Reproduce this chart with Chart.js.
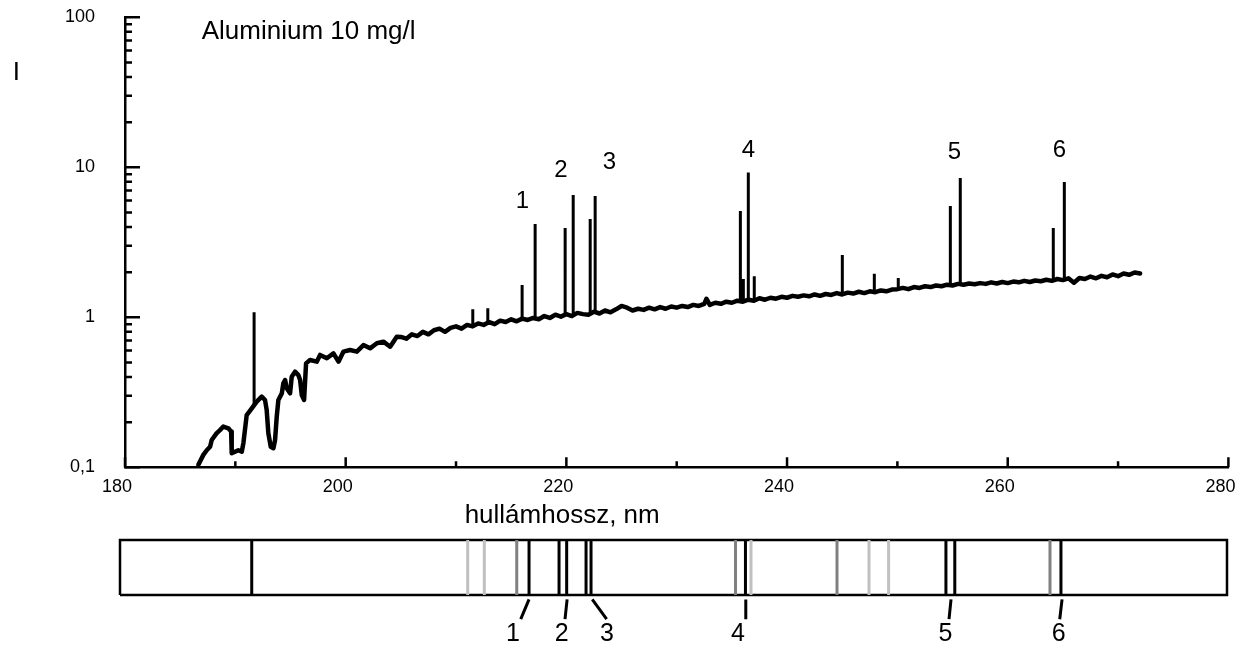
<!DOCTYPE html>
<html>
<head>
<meta charset="utf-8">
<title>Aluminium 10 mg/l</title>
<script src="https://cdn.jsdelivr.net/npm/chart.js@4.4.1/dist/chart.umd.min.js"></script>
<style>
  html, body { margin: 0; padding: 0; background: #fff; }
  #wrap { position: relative; width: 1239px; height: 645px; }
  #spectrum { position: absolute; left: 0; top: 0; }
  #strip { position: absolute; left: 0; top: 530px; }
</style>
</head>
<body>
<div id="wrap">
  <canvas id="spectrum" width="1239" height="530"></canvas>
  <canvas id="strip" width="1239" height="115"></canvas>
</div>
<script>
// Axis ticks
const xTickValues = [180, 190, 200, 210, 220, 230, 240, 250, 260, 270, 280];
const xLabelValues = [180, 200, 220, 240, 260, 280];
const yTickValues = [0.1, 0.2, 0.3, 0.4, 0.5, 0.6, 0.7, 0.8, 0.9,
                     1, 2, 3, 4, 5, 6, 7, 8, 9,
                     10, 20, 30, 40, 50, 60, 70, 80, 90, 100];
const yLabelValues = [0.1, 1, 10, 100];
const yLabelText = ["0,1", "1", "10", "100"];

// Background spectrum (wavelength in nm, intensity)
const specNm = [
  186.65, 187.10, 187.41, 187.71, 187.86, 188.31, 188.61, 188.91, 189.37, 189.62,
  189.67, 189.97, 190.27, 190.58, 190.73, 191.03, 191.49, 191.94, 192.39, 192.69,
  192.84, 192.99, 193.21, 193.45, 193.60, 193.75, 193.90, 194.21, 194.35, 194.51,
  194.66, 194.96, 195.11, 195.41, 195.71, 195.87, 196.02, 196.23, 196.41, 196.77,
  197.38, 197.68, 198.29, 198.89, 199.35, 199.79, 200.40, 201.01, 201.61, 202.21,
  202.82, 203.42, 204.03, 204.63,
  205.0, 205.5, 206.0, 206.5, 207.0, 207.5, 208.0, 208.5, 209.0, 209.5,
  210.0, 210.5, 211.0, 211.5, 212.0, 212.5, 213.0, 213.5, 214.0, 214.5,
  215.0, 215.5, 216.0, 216.5, 217.0, 217.5, 218.0, 218.5, 219.0, 219.5,
  220.0, 220.5, 221.0, 221.5, 222.0, 222.5, 223.0, 223.5, 224.0, 224.5,
  225.0, 225.5, 226.0, 226.5, 227.0, 227.5, 228.0, 228.5, 229.0, 229.5,
  230.0, 230.5, 231.0, 231.5, 232.0, 232.5, 232.7, 233.0, 233.5, 234.0,
  234.5, 235.0, 235.5, 236.0, 236.5, 237.0, 237.5, 238.0, 238.5, 239.0,
  239.5, 240.0, 240.5, 241.0, 241.5, 242.0, 242.5, 243.0, 243.5, 244.0,
  244.5, 245.0, 245.5, 246.0, 246.5, 247.0, 247.5, 248.0, 248.5, 249.0,
  249.5, 250.0, 250.5, 251.0, 251.5, 252.0, 252.5, 253.0, 253.5, 254.0,
  254.5, 255.0, 255.5, 256.0, 256.5, 257.0, 257.5, 258.0, 258.5, 259.0,
  259.5, 260.0, 260.5, 261.0, 261.5, 262.0, 262.5, 263.0, 263.5, 264.0,
  264.5, 265.0, 265.5, 266.0, 266.5, 267.0, 267.5, 268.0, 268.5, 269.0,
  269.5, 270.0, 270.5, 271.0, 271.5, 272.0
];
const specI = [
  0.104, 0.121, 0.130, 0.137, 0.152, 0.169, 0.177, 0.187, 0.182, 0.173,
  0.124, 0.127, 0.130, 0.127, 0.145, 0.223, 0.247, 0.274, 0.296, 0.281,
  0.241, 0.169, 0.137, 0.134, 0.152, 0.217, 0.281, 0.311, 0.363, 0.382,
  0.336, 0.311, 0.402, 0.434, 0.412, 0.382, 0.303, 0.281, 0.493, 0.519,
  0.506, 0.561, 0.533, 0.575, 0.506, 0.590, 0.605, 0.590, 0.653, 0.621,
  0.671, 0.688, 0.637, 0.743,
  0.74, 0.72, 0.77, 0.75, 0.80, 0.77, 0.82, 0.84, 0.80, 0.85,
  0.87, 0.84, 0.89, 0.87, 0.91, 0.89, 0.93, 0.90, 0.95, 0.93,
  0.97, 0.94, 0.98, 0.96, 0.99, 0.97, 1.02, 0.99, 1.04, 1.01,
  1.05, 1.02, 1.07, 1.05, 1.04, 1.09, 1.06, 1.11, 1.08, 1.13,
  1.19, 1.16, 1.11, 1.14, 1.12, 1.16, 1.13, 1.17, 1.14, 1.18,
  1.16, 1.19, 1.17, 1.21, 1.19, 1.23, 1.33, 1.21, 1.25, 1.23,
  1.27, 1.25, 1.29, 1.27, 1.31, 1.29, 1.34, 1.31, 1.35, 1.33,
  1.37, 1.35, 1.39, 1.37, 1.40, 1.38, 1.42, 1.39, 1.43, 1.41,
  1.45, 1.42, 1.46, 1.44, 1.48, 1.45, 1.49, 1.47, 1.51, 1.49,
  1.53, 1.54, 1.57, 1.54, 1.59, 1.57, 1.61, 1.59, 1.63, 1.61,
  1.65, 1.63, 1.67, 1.65, 1.68, 1.66, 1.69, 1.67, 1.71, 1.68,
  1.72, 1.69, 1.73, 1.71, 1.75, 1.72, 1.76, 1.74, 1.78, 1.75,
  1.80, 1.77, 1.82, 1.70, 1.83, 1.80, 1.87, 1.82, 1.89, 1.85,
  1.93, 1.88, 1.96, 1.92, 1.99, 1.96
];

// Emission lines on the spectrum
const spikeNm   = [191.70, 211.52, 212.88, 215.99, 217.17, 219.89, 220.62, 222.16, 222.61, 235.77,
                   236.04, 236.49, 237.03, 245.01, 247.91, 250.08, 254.80, 255.70, 264.13, 265.13];
const spikeBase = [0.26, 0.87, 0.90, 0.97, 0.98, 1.03, 1.04, 1.06, 1.08, 1.28,
                   1.29, 1.30, 1.31, 1.43, 1.47, 1.54, 1.64, 1.66, 1.77, 1.79];
const spikeTop  = [1.08, 1.13, 1.15, 1.64, 4.19, 3.94, 6.53, 4.52, 6.44, 5.11,
                   1.80, 9.22, 1.88, 2.60, 1.95, 1.83, 5.52, 8.49, 3.94, 7.98];

// Peak numbers above the spectrum
const peakText = ["1", "2", "3", "4", "5", "6"];
const peakLabelNm = [216.02, 219.50, 223.91, 236.49, 255.16, 264.68];
const peakLabelI  = [5.9, 9.5, 10.8, 13.0, 12.5, 12.9];

// Line strip below: wavelength and shade (0 black, 1 grey, 2 light grey)
const stripNm = [191.90, 211.41, 212.91, 215.84, 216.95, 219.66, 220.35, 222.10, 222.55, 235.60,
                 236.50, 237.00, 244.77, 247.66, 249.43, 254.61, 255.41, 264.01, 265.00];
const stripShade = [0, 2, 2, 1, 0, 0, 0, 0, 0, 1,
                    0, 2, 1, 2, 2, 0, 0, 1, 0];
const shadeColors = ["#000000", "#808080", "#c0c0c0"];
const leaderFromNm = [216.95, 220.39, 222.66, 236.53, 255.07, 265.10];
const leaderToNm   = [216.20, 220.20, 223.96, 236.53, 254.89, 264.89];
const stripLabelNm = [215.50, 219.90, 223.99, 235.83, 254.57, 264.79];

const fontFamily = '"Liberation Sans", Arial, Helvetica, sans-serif';
Chart.defaults.font.family = fontFamily;
Chart.defaults.color = "#000";

// Draws short tick marks pointing into the plot
const innerTicks = {
    id: "innerTicks",
    afterDraw(chart) {
        const { ctx, chartArea } = chart;
        const xs = chart.scales.x;
        const ys = chart.scales.y;
        ctx.save();
        ctx.strokeStyle = "#000";
        ctx.lineWidth = 2.5;
        ctx.beginPath();
        xTickValues.forEach(v => {
            const px = xs.getPixelForValue(v);
            const len = xLabelValues.includes(v) ? 10 : 6;
            ctx.moveTo(px, chartArea.bottom);
            ctx.lineTo(px, chartArea.bottom - len);
        });
        yTickValues.forEach(v => {
            const py = ys.getPixelForValue(v);
            const len = yLabelValues.includes(v) ? 15 : 7;
            ctx.moveTo(chartArea.left, py);
            ctx.lineTo(chartArea.left + len, py);
        });
        ctx.stroke();
        ctx.restore();
    }
};

// Free text placed at data coordinates
function textNotes(items) {
    return {
        id: "textNotes",
        afterDraw(chart) {
            const ctx = chart.ctx;
            ctx.save();
            ctx.fillStyle = "#000";
            ctx.textBaseline = "middle";
            items.forEach(n => {
                ctx.font = n.size + "px " + fontFamily;
                ctx.textAlign = n.align || "center";
                ctx.fillText(n.text, chart.scales.x.getPixelForValue(n.x), chart.scales.y.getPixelForValue(n.y));
            });
            ctx.restore();
        }
    };
}

// Vertical segments with gaps between them
function segments(xs, y0, y1) {
    const pts = [];
    xs.forEach((x, i) => {
        const xb = Array.isArray(x) ? x[0] : x;
        const xt = Array.isArray(x) ? x[1] : x;
        pts.push({ x: xb, y: typeof y0 === "number" ? y0 : y0[i] });
        pts.push({ x: xt, y: typeof y1 === "number" ? y1 : y1[i] });
        pts.push({ x: xt, y: null });
    });
    return pts;
}

const mainNotes = [
    { text: "Aluminium 10 mg/l", x: 186.95, y: 79.8, size: 26, align: "left" },
    { text: "I", x: 170.16, y: 42.5, size: 26 },
    { text: "hullámhossz, nm", x: 219.62, y: 0.0473, size: 26 }
];
peakText.forEach((t, i) => mainNotes.push({ text: t, x: peakLabelNm[i], y: peakLabelI[i], size: 24 }));

new Chart(document.getElementById("spectrum"), {
    type: "line",
    data: {
        datasets: [
            {
                data: specNm.map((x, i) => ({ x: x, y: specI[i] })),
                borderColor: "#000",
                borderWidth: 4.5,
                borderJoinStyle: "round",
                borderCapStyle: "round",
                pointRadius: 0,
                tension: 0,
                clip: false
            },
            {
                data: segments(spikeNm, spikeBase, spikeTop),
                borderColor: "#000",
                borderWidth: 3,
                pointRadius: 0,
                spanGaps: false,
                clip: false
            }
        ]
    },
    options: {
        responsive: false,
        animation: false,
        events: [],
        layout: { padding: { left: 0, top: 17.3, right: 10.6, bottom: 0 } },
        plugins: { legend: { display: false }, tooltip: { enabled: false } },
        scales: {
            x: {
                type: "linear",
                min: 180,
                max: 280,
                afterBuildTicks: scale => { scale.ticks = xTickValues.map(v => ({ value: v })); },
                afterFit: scale => {
                    scale.height = 62.7;
                    scale.paddingLeft = 0;
                    scale.paddingRight = 0;
                },
                grid: { display: false, drawTicks: false, tickLength: 0 },
                border: { display: true, color: "#000", width: 2.5 },
                ticks: {
                    autoSkip: false,
                    maxRotation: 0,
                    padding: 9,
                    labelOffset: -8,
                    font: { size: 18 },
                    callback: v => (xLabelValues.includes(v) ? String(v) : "")
                }
            },
            y: {
                type: "logarithmic",
                min: 0.1,
                max: 100,
                afterBuildTicks: scale => { scale.ticks = yTickValues.map(v => ({ value: v })); },
                afterFit: scale => {
                    scale.width = 125;
                    scale.paddingTop = 0;
                    scale.paddingBottom = 0;
                },
                grid: { display: false, drawTicks: false, tickLength: 0 },
                border: { display: true, color: "#000", width: 2.5 },
                ticks: {
                    autoSkip: false,
                    padding: 30,
                    font: { size: 18 },
                    callback: v => {
                        const i = yLabelValues.indexOf(v);
                        return i < 0 ? "" : yLabelText[i];
                    }
                }
            }
        }
    },
    plugins: [innerTicks, textNotes(mainNotes)]
});

// Strip of lines below the spectrum
const stripNotes = peakText.map((t, i) => ({ text: t, x: stripLabelNm[i], y: -0.709, size: 25 }));
const stripSets = [2, 1, 0].map(s => ({
    data: segments(stripNm.filter((x, i) => stripShade[i] === s), 0, 1),
    borderColor: shadeColors[s],
    borderWidth: 3,
    pointRadius: 0,
    spanGaps: false,
    clip: false
}));
const xMin = 180, xMax = 280;

new Chart(document.getElementById("strip"), {
    type: "line",
    data: {
        datasets: stripSets.concat([
            {
                data: [{ x: xMin, y: 0 }, { x: xMax, y: 0 }, { x: xMax, y: 1 }, { x: xMin, y: 1 }, { x: xMin, y: 0 }],
                borderColor: "#000",
                borderWidth: 2.5,
                borderJoinStyle: "miter",
                pointRadius: 0,
                clip: false
            },
            {
                data: segments(leaderFromNm.map((x, i) => [x, leaderToNm[i]]), -0.08, -0.44),
                borderColor: "#000",
                borderWidth: 3,
                pointRadius: 0,
                spanGaps: false,
                clip: false
            }
        ])
    },
    options: {
        responsive: false,
        animation: false,
        events: [],
        layout: { padding: { left: 120, top: 10, right: 12, bottom: 0 } },
        plugins: { legend: { display: false }, tooltip: { enabled: false } },
        scales: {
            x: { type: "linear", min: xMin, max: xMax, display: false },
            y: { type: "linear", min: -0.909, max: 1, display: false }
        }
    },
    plugins: [textNotes(stripNotes)]
});
</script>
</body>
</html>
